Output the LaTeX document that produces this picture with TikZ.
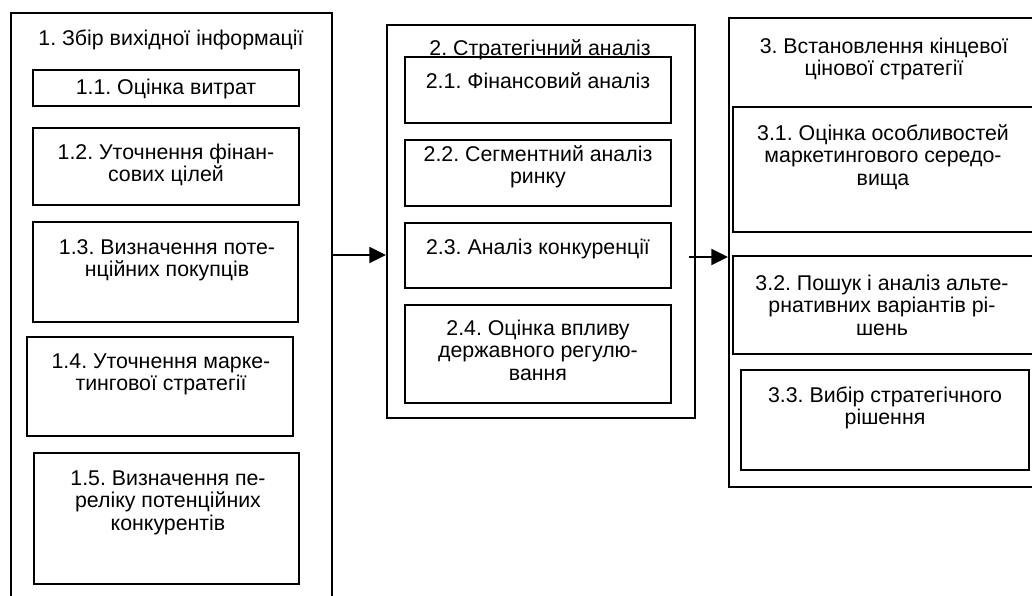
\documentclass[tikz,border=0pt]{standalone}
\usepackage{fontspec}
\setmainfont{Liberation Sans}
\usetikzlibrary{arrows.meta,fit}
\tikzset{
  frame/.style={draw, line width=1.5pt, inner sep=0pt},
  lbl/.style={anchor=base, inner sep=0pt, font=\fontsize{16pt}{16.9pt}\selectfont},
  arr/.style={line width=1.5pt, -{Triangle[length=12.5pt,width=12pt]}}
}
\newcommand\boxat[5]{%
  \coordinate (#1a) at (#2,#3);
  \coordinate (#1b) at (#4,#5);
  \node[frame, fit=(#1a)(#1b)] (#1) {};}
\newcommand\mylines[1]{\parbox[t]{250pt}{\frenchspacing\centering #1}}
\begin{document}
\frenchspacing
\begin{tikzpicture}[x=0.75pt,y=-0.75pt]
\useasboundingbox (0,0) rectangle (1032,596);
\begin{scope}
\clip (0,0) rectangle (1032,596);
% column 1
\boxat{o1}{11}{13}{332}{640}
\boxat{b11}{33}{70}{299}{106}
\boxat{b12}{33}{128}{299}{205}
\boxat{b13}{33}{222}{298}{322}
\boxat{b14}{27}{337}{293}{436}
\boxat{b15}{34}{453}{299}{584}
% column 2
\boxat{o2}{387}{25}{695}{418}
\boxat{b21}{405}{57}{671}{123}
\boxat{b22}{405}{140}{671}{206}
\boxat{b23}{405}{223}{671}{288}
\boxat{b24}{405}{305}{671}{403}
% column 3
\boxat{o3}{729}{18}{1070}{487}
\boxat{b31}{733}{107}{1070}{232}
\boxat{b32}{733}{256}{1070}{354}
\boxat{b33}{741}{370}{1029}{470}
% texts
\node[lbl] (t1)  at (171,45)  {\mylines{1. Збір вихідної інформації}};
\node[lbl] (t11) at (166,94)  {\mylines{1.1. Оцінка витрат}};
\node[lbl] (t12) at (166,159) {\mylines{1.2. Уточнення фінан-\\сових цілей}};
\node[lbl] (t13) at (167,254) {\mylines{1.3. Визначення поте-\\нційних покупців}};
\node[lbl] (t14) at (161,368) {\mylines{1.4. Уточнення марке-\\тингової стратегії}};
\node[lbl] (t15) at (168,485) {\mylines{1.5. Визначення пе-\\реліку потенційних\\конкурентів}};
\node[lbl] (t2)  at (540,55)  {\mylines{2. Стратегічний аналіз}};
\node[lbl] (t21) at (538,88)  {\mylines{2.1. Фінансовий аналіз}};
\node[lbl] (t22) at (538,161) {\mylines{2.2. Сегментний аналіз\\ринку}};
\node[lbl] (t23) at (538,254) {\mylines{2.3. Аналіз конкуренції}};
\node[lbl] (t24) at (538,335) {\mylines{2.4. Оцінка впливу\\державного регулю-\\вання}};
\node[lbl] (t3)  at (884,53)  {\mylines{3. Встановлення кінцевої\\цінової стратегії}};
\node[lbl] (t31) at (883,140) {\mylines{3.1. Оцінка особливостей\\маркетингового середо-\\вища}};
\node[lbl] (t32) at (882,290) {\mylines{3.2. Пошук і аналіз альте-\\рнативних варіантів рі-\\шень}};
\node[lbl] (t33) at (885,402) {\mylines{3.3. Вибір стратегічного\\рішення}};
% arrows
\coordinate (ya) at (0,255);
\coordinate (yb) at (0,257);
\draw[arr] (o1.east |- ya) -- (o2.west |- ya);
\draw[arr, shorten <=-5.25pt] (o2.east |- yb) -- (o3.west |- yb);
\end{scope}
\end{tikzpicture}
\end{document}
